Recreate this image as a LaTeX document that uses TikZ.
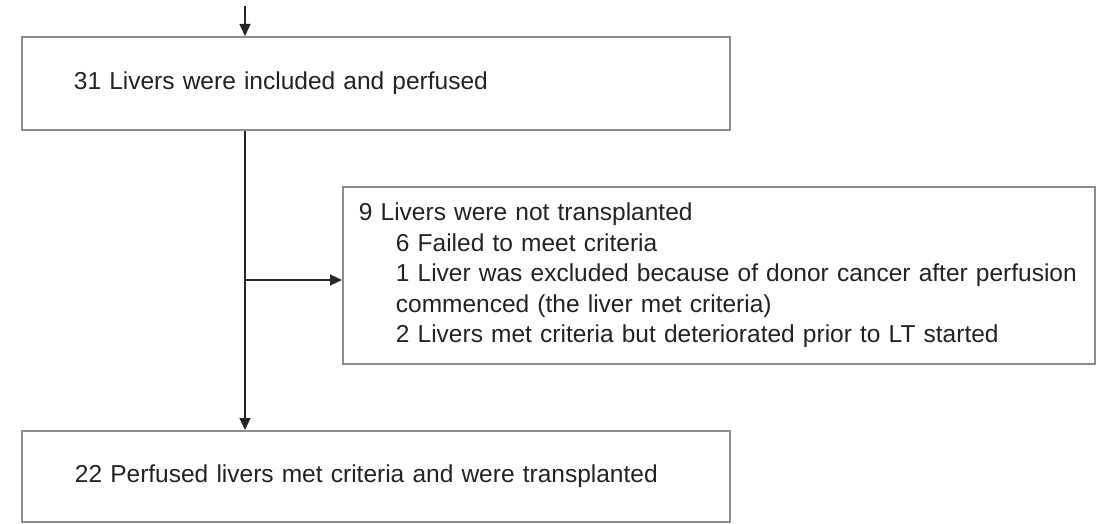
\documentclass[tikz,border=0pt]{standalone}
\usepackage{fontspec}
\setmainfont{Liberation Sans}
\usetikzlibrary{arrows.meta}
\definecolor{boxgray}{HTML}{8C8C8C}
\definecolor{txt}{HTML}{222222}
\begin{document}
\begin{tikzpicture}[x=1pt,y=-1pt,
  flowbox/.style={draw=boxgray, line width=1.8pt, rectangle, anchor=north west,
    align=left, text=txt, font=\fontsize{24.5}{30.6}\selectfont, inner ysep=0pt},
  conn/.style={draw=black!85, line width=1.2pt, -{Triangle[length=12pt,width=11pt]}}]
\useasboundingbox (0,0) rectangle (1101,524);
\node[flowbox, minimum width=708pt, minimum height=93pt, inner xsep=52pt, text width=604pt] (top) at (21,36) {31 Livers were included and perfused};
\node[flowbox, minimum width=752pt, minimum height=177pt, inner xsep=16pt, text width=720pt] (excl) at (342,186)
  {\hyphenpenalty=10000 9 Livers were not transplanted\\
   \hspace*{37pt}6 Failed to meet criteria\\
   \hspace*{37pt}1 Liver was excluded because of donor cancer after perfusion\\
   \hspace*{37pt}commenced (the liver met criteria)\\
   \hspace*{37pt}2 Livers met criteria but deteriorated prior to LT started};
\node[flowbox, minimum width=708pt, minimum height=91pt, inner xsep=53pt, text width=602pt] (bot) at (21,430) {22 Perfused livers met criteria and were transplanted};
\coordinate (start) at (245,6);
\coordinate (br) at (245,280);
\draw[conn] (start) -- (start |- top.north);
\draw[conn] (start |- top.south) -- (start |- bot.north);
\draw[conn] (br) -- (br -| excl.west);
\end{tikzpicture}
\end{document}
